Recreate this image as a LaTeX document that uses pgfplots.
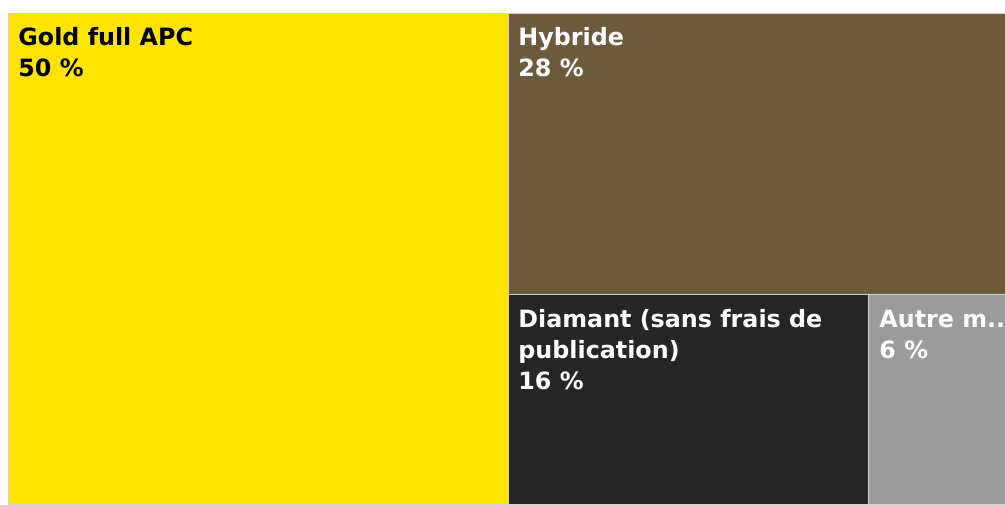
\documentclass[border=0pt]{standalone}
\usepackage{pgfplots}
\pgfplotsset{compat=1.18}
\usepackage{fontspec}
\setmainfont{DejaVu Sans}
\definecolor{goldc}{HTML}{FFE400}
\definecolor{hybc}{HTML}{6E5A3D}
\definecolor{diac}{HTML}{262626}
\definecolor{autc}{HTML}{9B9B9B}
\definecolor{bordc}{HTML}{D0D0D0}
\begin{document}
\begin{tikzpicture}
\begin{axis}[x=0.5pt,y=0.5pt,y dir=reverse,
  xmin=0,xmax=1005,ymin=0,ymax=504,
  hide axis, clip=false]
% Gold full APC 50 %
\addplot[fill=goldc, draw=bordc, line width=0.5pt] coordinates {(8,13) (508,13) (508,504) (8,504)} -- cycle;
% Hybride 28 %
\addplot[fill=hybc, draw=bordc, line width=0.5pt] coordinates {(508,13) (1005,13) (1005,294.5) (508,294.5)} -- cycle;
% Diamant 16 %
\addplot[fill=diac, draw=bordc, line width=0.5pt] coordinates {(508,294.5) (868,294.5) (868,504) (508,504)} -- cycle;
% Autre 6 %
\addplot[fill=autc, draw=bordc, line width=0.5pt] coordinates {(868,294.5) (1005,294.5) (1005,504) (868,504)} -- cycle;
\tikzset{lab/.style={anchor=base west, inner sep=0pt, font=\fontsize{11.9pt}{14pt}\selectfont\bfseries}}
\node[lab, text=black] at (axis cs:18,45) {Gold full APC};
\node[lab, text=black] at (axis cs:18,76) {50 \%};
\node[lab, text=white] at (axis cs:518,45) {Hybride};
\node[lab, text=white] at (axis cs:518,76) {28 \%};
\node[lab, text=white] at (axis cs:518,327) {Diamant (sans frais de};
\node[lab, text=white] at (axis cs:518,358) {publication)};
\node[lab, text=white] at (axis cs:518,389) {16 \%};
\node[lab, text=white] at (axis cs:879,327) {Autre m..};
\node[lab, text=white] at (axis cs:879,358) {6 \%};
\end{axis}
\pgfresetboundingbox
\path[use as bounding box] (current axis.south west) rectangle (current axis.north east);
\end{tikzpicture}
\end{document}
